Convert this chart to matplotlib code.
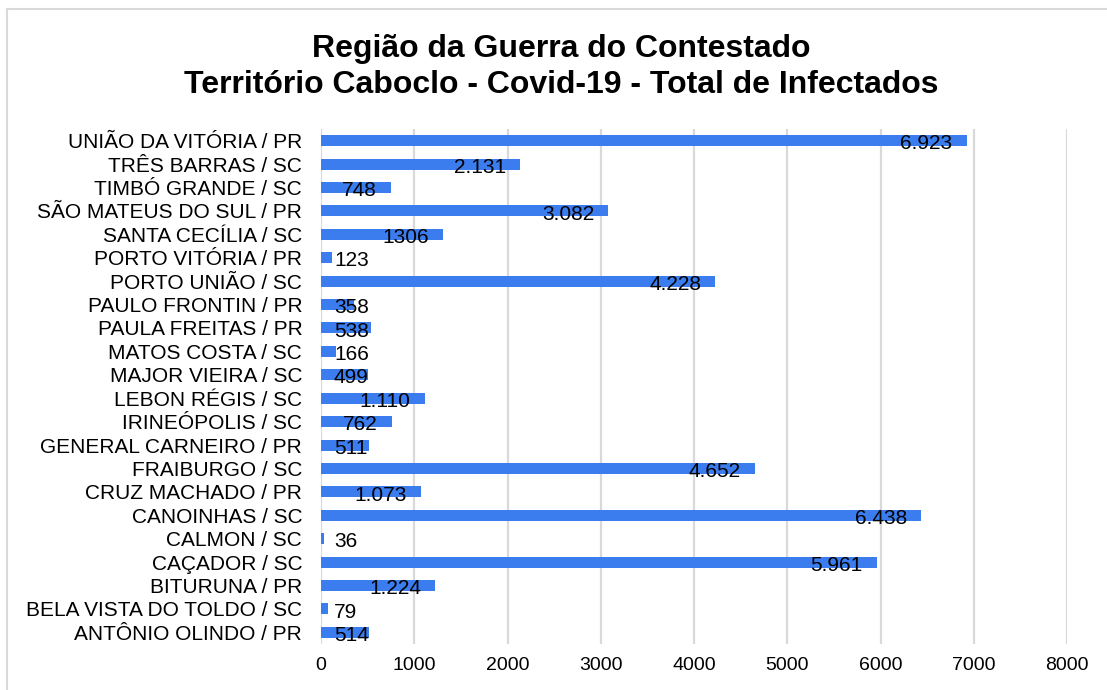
import matplotlib
matplotlib.use("Agg")
import matplotlib.pyplot as plt
from matplotlib.lines import Line2D

plt.rcParams['font.family'] = ['Liberation Sans', 'DejaVu Sans']

# dados (de baixo para cima, como no gráfico)
cidades = [
    "ANTÔNIO OLINDO / PR", "BELA VISTA DO TOLDO / SC", "BITURUNA / PR",
    "CAÇADOR / SC", "CALMON / SC", "CANOINHAS / SC", "CRUZ MACHADO / PR",
    "FRAIBURGO / SC", "GENERAL CARNEIRO / PR", "IRINEÓPOLIS / SC",
    "LEBON RÉGIS / SC", "MAJOR VIEIRA / SC", "MATOS COSTA / SC",
    "PAULA FREITAS / PR", "PAULO FRONTIN / PR", "PORTO UNIÃO / SC",
    "PORTO VITÓRIA / PR", "SANTA CECÍLIA / SC", "SÃO MATEUS DO SUL / PR",
    "TIMBÓ GRANDE / SC", "TRÊS BARRAS / SC", "UNIÃO DA VITÓRIA / PR",
]
infectados = [514, 79, 1224, 5961, 36, 6438, 1073, 4652, 511, 762,
              1110, 499, 166, 538, 358, 4228, 123, 1306, 3082, 748, 2131, 6923]
rotulos = ["514", "79", "1.224", "5.961", "36", "6.438", "1.073", "4.652",
           "511", "762", "1.110", "499", "166", "538", "358", "4.228",
           "123", "1306", "3.082", "748", "2.131", "6.923"]
xticks = [0, 1000, 2000, 3000, 4000, 5000, 6000, 7000, 8000]

W, H = 1107, 690
fig = plt.figure(figsize=(W / 100, H / 100), dpi=100)
ax = fig.add_axes([321 / W, 1 - 644 / H, (1067 - 321) / W, (644 - 129) / H])

pos = list(range(len(cidades)))
ax.barh(pos, infectados, height=0.47, color='#3b7dee', zorder=3)

ax.set_xlim(0, 8000)
ax.set_ylim(-0.5, len(cidades) - 0.5)
ax.set_xticks(xticks)
ax.set_xticklabels([str(t) for t in xticks])
ax.set_yticks(pos)
ax.set_yticklabels(cidades)
ax.tick_params(axis='y', length=0, pad=13.5, labelsize=15)
ax.tick_params(axis='x', length=0, pad=9, labelsize=14)
ax.xaxis.grid(True, color='#d9d9d9', linewidth=1.6, zorder=0)
ax.set_axisbelow(True)
for s in ax.spines.values():
    s.set_visible(False)

# rótulos de dados
px = 8000 / (1067 - 321)  # unidades por pixel
textos = []
for i, (v, r) in enumerate(zip(infectados, rotulos)):
    t = ax.text(v - 14 * px, i - 0.37, r, ha='right', va='baseline',
                fontsize=15, color='black', zorder=4)
    textos.append(t)

fig.canvas.draw()
renderer = fig.canvas.get_renderer()
x0_ax = ax.get_window_extent(renderer).x0
for t in textos:
    bb = t.get_window_extent(renderer)
    if bb.x0 < x0_ax + 13:
        t.set_ha('left')
        t.set_x(13 * px)

# título
fig.text(561 / W, 1 - 57 / H, "Região da Guerra do Contestado",
         ha='center', va='baseline', fontsize=23, fontweight='bold')
fig.text(561 / W, 1 - 93 / H, "Território Caboclo - Covid-19 - Total de Infectados",
         ha='center', va='baseline', fontsize=23, fontweight='bold')

# borda do gráfico
fig.add_artist(Line2D([6.5 / W, 1], [1 - 9 / H, 1 - 9 / H], color='#d9d9d9', linewidth=1.5))
fig.add_artist(Line2D([6.5 / W, 6.5 / W], [0, 1 - 9 / H], color='#d9d9d9', linewidth=1.5))

fig.savefig("out.png", dpi=100)
